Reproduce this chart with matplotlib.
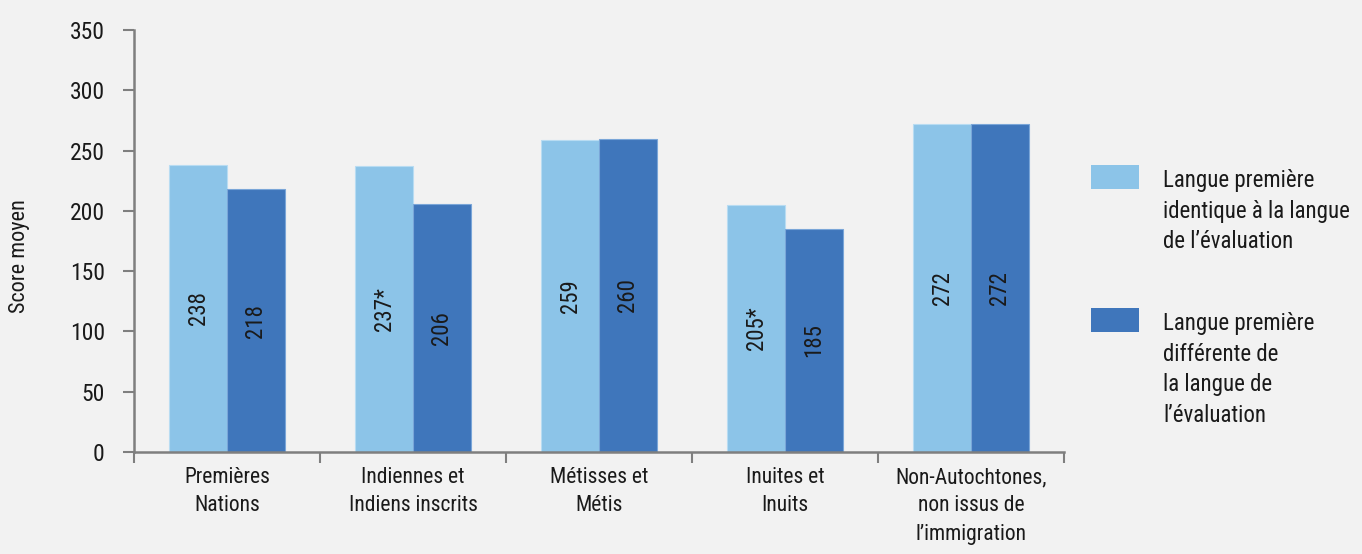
import matplotlib
matplotlib.use("Agg")
import matplotlib.pyplot as plt
from matplotlib import font_manager
from matplotlib.patches import Rectangle
import numpy as np

names = {f.name for f in font_manager.fontManager.ttflist}
fam = "DejaVu Sans"
for cand in ["Roboto Condensed", "Archivo Narrow", "Liberation Sans Narrow", "Open Sans Condensed"]:
    if cand in names:
        fam = cand
        break
plt.rcParams['font.family'] = [fam, 'DejaVu Sans']

categories = ["Premières\nNations", "Indiennes et\nIndiens inscrits", "Métisses et\nMétis",
              "Inuites et\nInuits", "Non-Autochtones,\nnon issus de\nl\u2019immigration"]
same_lang = [238, 237, 259, 205, 272]
diff_lang = [218, 206, 260, 185, 272]
same_labels = ["238", "237*", "259", "205*", "272"]
diff_labels = ["218", "206", "260", "185", "272"]
series_names = ["Langue première\nidentique à la langue\nde l\u2019évaluation",
                "Langue première\ndifférente de\nla langue de\nl\u2019évaluation"]
yticks = [0, 50, 100, 150, 200, 250, 300, 350]

bg = "#f2f2f2"
c1 = "#8cc4e8"
c2 = "#3f76bb"
axc = "#7f7f7f"
tc = "#1a1a1a"
W, H = 1362, 554

fig = plt.figure(figsize=(W/100, H/100), dpi=100, facecolor=bg)
ax = fig.add_axes([134/W, (H-452)/H, (1064-134)/W, 422/H], facecolor=bg)

x = np.arange(len(categories))
w = 0.31
b1 = ax.bar(x - w/2, same_lang, w, color=c1, edgecolor="#b8dcf2", linewidth=0.8)
b2 = ax.bar(x + w/2, diff_lang, w, color=c2, edgecolor="#7aa6d8", linewidth=0.8)
for xi, v, l in zip(x, same_lang, same_labels):
    ax.text(xi - w/2, v/2, l, rotation=90, ha="center", va="center", fontsize=16.5, color=tc)
for xi, v, l in zip(x, diff_lang, diff_labels):
    ax.text(xi + w/2, v/2, l, rotation=90, ha="center", va="center", fontsize=16.5, color=tc)

ax.set_xlim(-0.5, len(categories) - 0.5)
ax.set_ylim(0, 350)
ax.set_yticks(yticks)
ax.set_yticklabels([str(t) for t in yticks], fontsize=17, color=tc)
ax.set_xticks(x)
ax.set_xticklabels(categories, fontsize=15.5, color=tc, linespacing=1.45)
ax.tick_params(axis="x", length=0, pad=11)
ax.set_xticks(np.arange(-0.5, len(categories)), minor=True)
ax.tick_params(axis="x", which="minor", length=8, color=axc, width=1.5)
ax.tick_params(axis="y", length=8, color=axc, width=1.5, pad=13)
for s in ["top", "right"]:
    ax.spines[s].set_visible(False)
for s in ["left", "bottom"]:
    ax.spines[s].set_color(axc)
    ax.spines[s].set_linewidth(1.8)
fig.text(20/W, 1 - 256/H, "Score moyen", rotation=90, ha="center", va="center",
         fontsize=16, color=tc)

# legend drawn manually in figure pixel coordinates
leg_items = [(c1, 165, series_names[0]), (c2, 308, series_names[1])]
for fc, top, label in leg_items:
    fig.patches.append(Rectangle((1091/W, 1 - (top + 24)/H), 48/W, 24/H, transform=fig.transFigure,
                                 facecolor=fc, edgecolor="none"))
    fig.text(1163/W, 1 - (top + 4)/H, label, ha="left", va="top", fontsize=16.5,
             color=tc, linespacing=1.42)

fig.savefig("out.png", dpi=100, facecolor=bg)
